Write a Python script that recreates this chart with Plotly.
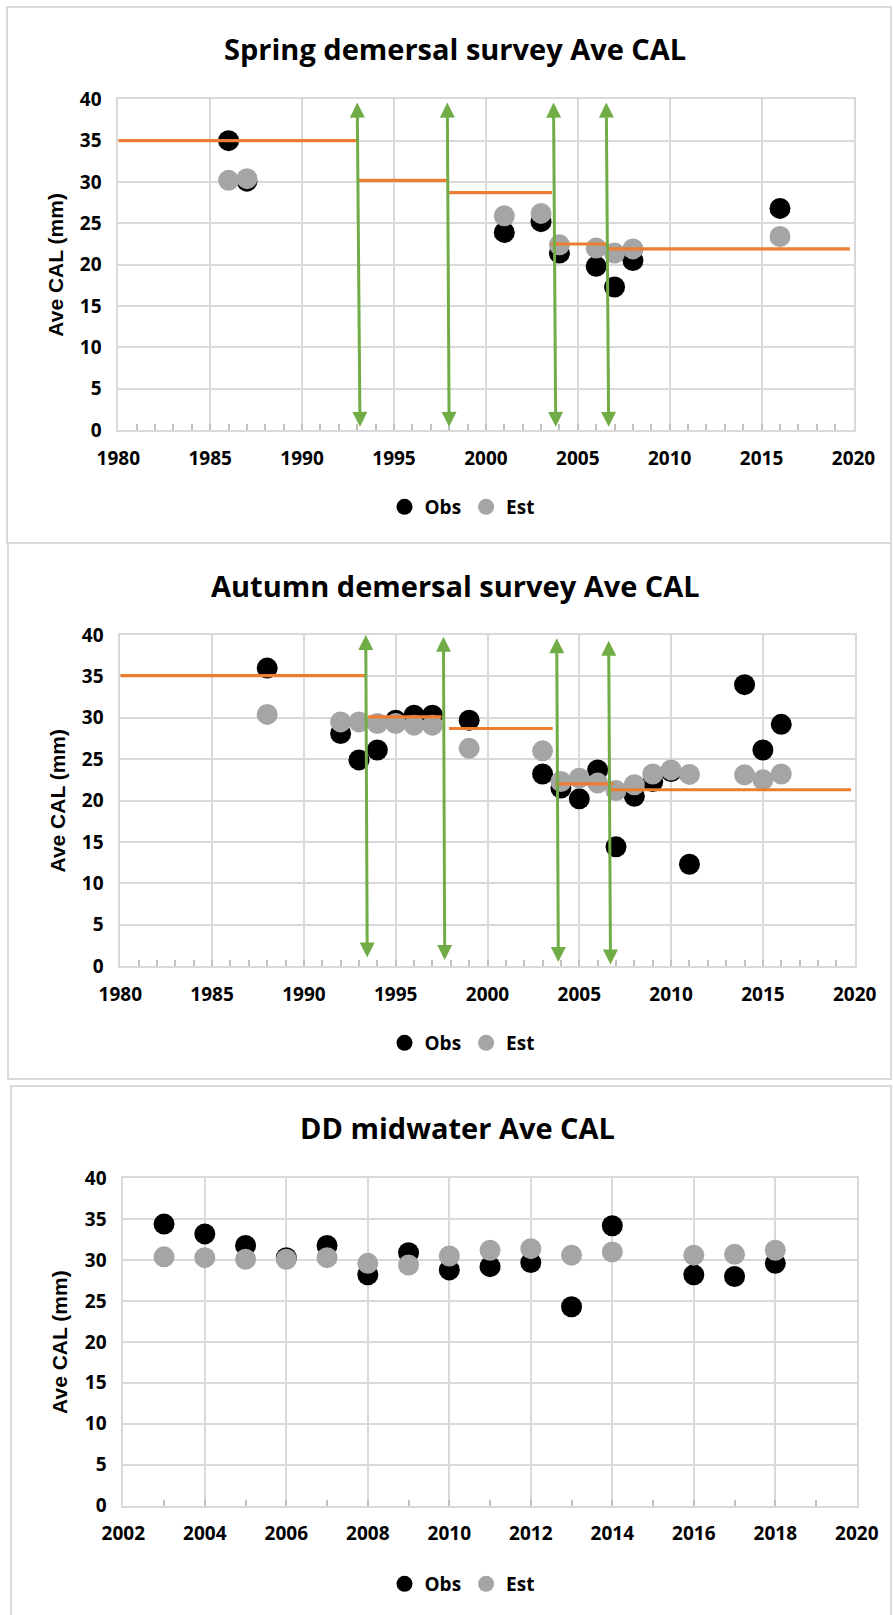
import plotly.graph_objects as go

W, H = 893, 1615

# ---------------- data ----------------
spring_years = [1986, 1987, 2001, 2003, 2004, 2006, 2007, 2008, 2016]
spring_obs = [35.0, 30.1, 23.9, 25.2, 21.4, 19.8, 17.3, 20.5, 26.8]
spring_est = [30.2, 30.4, 25.9, 26.2, 22.4, 22.0, 21.4, 21.9, 23.4]
spring_seg_start = [1980, 1993.0, 1997.95, 2003.55, 2006.65]
spring_seg_end = [1993.0, 1997.95, 2003.6, 2006.7, 2019.8]
spring_seg_level = [35.0, 30.2, 28.7, 22.5, 21.9]
spring_arrow_x_top = [1993.0, 1997.9, 2003.68, 2006.55]
spring_arrow_x_bot = [1993.15, 1998.0, 2003.8, 2006.68]
spring_arrow_y_top = [39.6, 39.6, 39.6, 39.6]
spring_arrow_y_bot = [0.2, 0.2, 0.2, 0.2]

autumn_years = [1988, 1992, 1993, 1994, 1995, 1996, 1997, 1999, 2003, 2004,
                2005, 2006, 2007, 2008, 2009, 2010, 2011, 2014, 2015, 2016]
autumn_obs = [36.0, 28.1, 24.9, 26.1, 29.7, 30.3, 30.3, 29.7, 23.2, 21.5,
              20.2, 23.7, 14.4, 20.5, 22.3, 23.5, 12.3, 34.0, 26.1, 29.2]
autumn_est = [30.4, 29.5, 29.5, 29.3, 29.3, 29.1, 29.1, 26.3, 26.0, 22.3,
              22.7, 22.1, 21.2, 21.9, 23.2, 23.7, 23.15, 23.1, 22.5, 23.2]
autumn_seg_start = [1980, 1993.5, 1997.9, 2003.7, 2006.7]
autumn_seg_end = [1993.35, 1997.5, 2003.55, 2006.85, 2019.8]
autumn_seg_level = [35.1, 30.1, 28.7, 22.0, 21.3]
autumn_arrow_x_top = [1993.37, 1997.6, 2003.77, 2006.6]
autumn_arrow_x_bot = [1993.45, 1997.67, 2003.86, 2006.7]
autumn_arrow_y_top = [40.0, 39.8, 39.6, 39.3]
autumn_arrow_y_bot = [0.85, 0.55, 0.3, 0.0]

dd_years = [2003, 2004, 2005, 2006, 2007, 2008, 2009, 2010, 2011, 2012,
            2013, 2014, 2016, 2017, 2018]
dd_obs = [34.4, 33.2, 31.8, 30.3, 31.8, 28.2, 30.9, 28.8, 29.2, 29.7,
          24.3, 34.2, 28.2, 28.0, 29.6]
dd_est = [30.4, 30.3, 30.1, 30.1, 30.3, 29.6, 29.4, 30.5, 31.2, 31.4,
          30.6, 31.0, 30.6, 30.7, 31.2]

titles = ["Spring demersal survey Ave CAL", "Autumn demersal survey Ave CAL",
          "DD midwater Ave CAL"]
y_title = "Ave CAL (mm)"
series_names = ["Obs", "Est"]

# ---------------- style / layout ----------------
OBS_C = "#000000"
EST_C = "#a5a5a5"
ORANGE = "#ed7d31"
GREEN = "#70ad47"
GRID = "#d9d9d9"
TICKFONT = dict(family="Open Sans", size=19, color="#000000", weight="bold")

def px_x(p):
    return p / W

def px_y(p):
    return 1 - p / H

panels = [
    dict(x=(118.3, 853.5), y=(99.3, 430.0), xr=[1980, 2020], dt=5,
         title_xy=(455, 49), ytitle_x=56, legend_y=507),
    dict(x=(120.3, 854.7), y=(635.0, 966.0), xr=[1980, 2020], dt=5,
         title_xy=(456, 586), ytitle_x=57, legend_y=1043),
    dict(x=(123.3, 856.8), y=(1178.3, 1505.5), xr=[2002, 2020], dt=2,
         title_xy=(458, 1127), ytitle_x=60, legend_y=1584),
]
data_sets = [
    (spring_years, spring_obs, spring_est),
    (autumn_years, autumn_obs, autumn_est),
    (dd_years, dd_obs, dd_est),
]
steps = [
    (spring_seg_start, spring_seg_end, spring_seg_level),
    (autumn_seg_start, autumn_seg_end, autumn_seg_level),
    None,
]
arrows = [
    (spring_arrow_x_top, spring_arrow_x_bot, spring_arrow_y_top, spring_arrow_y_bot),
    (autumn_arrow_x_top, autumn_arrow_x_bot, autumn_arrow_y_top, autumn_arrow_y_bot),
    None,
]

fig = go.Figure()
layout = dict(
    width=W, height=H, margin=dict(l=0, r=0, t=0, b=0, pad=0, autoexpand=False),
    paper_bgcolor="white", plot_bgcolor="white", showlegend=True,
)
annotations = []
shapes = []

# chart-area boxes
boxes = [(7, 7, 891, 543), (8, 543, 891, 1079), (11, 1086, 891, 1625)]
for (x0, y0, x1, y1) in boxes:
    shapes.append(dict(type="rect", xref="paper", yref="paper",
                       x0=px_x(x0), x1=px_x(x1), y0=px_y(y1), y1=px_y(y0),
                       line=dict(color=GRID, width=2), fillcolor="rgba(0,0,0,0)",
                       layer="below"))

for i, p in enumerate(panels):
    n = "" if i == 0 else str(i + 1)
    xa, ya = "x" + n, "y" + n
    leg = "legend" + n
    yrs, obs, est = data_sets[i]
    fig.add_trace(go.Scatter(x=yrs, y=obs, mode="markers", name=series_names[0],
                             marker=dict(color=OBS_C, size=21), xaxis=xa, yaxis=ya,
                             legend=leg))
    fig.add_trace(go.Scatter(x=yrs, y=est, mode="markers", name=series_names[1],
                             marker=dict(color=EST_C, size=21), xaxis=xa, yaxis=ya,
                             legend=leg))
    if steps[i] is not None:
        s0, s1, lv = steps[i]
        for a, b, v in zip(s0, s1, lv):
            fig.add_trace(go.Scatter(x=[a, b], y=[v, v], mode="lines",
                                     line=dict(color=ORANGE, width=3.2),
                                     showlegend=False, hoverinfo="skip",
                                     xaxis=xa, yaxis=ya))
    if arrows[i] is not None:
        xt, xb, yt, yb = arrows[i]
        for a, b, c, d in zip(xt, xb, yt, yb):
            annotations.append(dict(
                x=a, y=c, ax=b, ay=d, xref=xa, yref=ya, axref=xa, ayref=ya,
                text="", showarrow=True, arrowhead=2, startarrowhead=2,
                arrowside="end+start", arrowwidth=3, arrowsize=1,
                startarrowsize=1, arrowcolor=GREEN, standoff=0, startstandoff=0))

    layout["xaxis" + n] = dict(
        domain=[px_x(p["x"][0]), px_x(p["x"][1])], anchor=ya,
        range=p["xr"], dtick=p["dt"], tick0=p["xr"][0],
        showgrid=True, gridcolor=GRID, gridwidth=1.5,
        showline=True, mirror=True, linecolor=GRID, linewidth=2,
        ticks="inside", ticklen=6, tickcolor="#bfbfbf", tickwidth=1.5,
        minor=dict(dtick=1, tick0=p["xr"][0], ticks="inside", ticklen=6,
                   tickcolor="#bfbfbf", tickwidth=1.5, showgrid=False),
        tickfont=TICKFONT, ticklabelstandoff=10, zeroline=False, fixedrange=True,
        automargin=False)
    layout["yaxis" + n] = dict(
        domain=[px_y(p["y"][1]), px_y(p["y"][0])], anchor=xa,
        range=[0, 40], dtick=5, showgrid=True, gridcolor=GRID, gridwidth=1.5,
        showline=True, mirror=True, linecolor=GRID, linewidth=2,
        ticks="", tickfont=TICKFONT, ticklabelstandoff=11, zeroline=False,
        fixedrange=True, automargin=False)
    layout[leg] = dict(orientation="h", x=px_x(462), xanchor="center",
                       y=px_y(p["legend_y"]), yanchor="middle",
                       font=dict(family="Open Sans", size=19, color="#000000",
                                 weight="bold"),
                       bgcolor="rgba(0,0,0,0)", itemclick=False)
    tx, ty = p["title_xy"]
    annotations.append(dict(text=titles[i], xref="paper", yref="paper",
                            x=px_x(tx), y=px_y(ty), xanchor="center", yanchor="middle",
                            showarrow=False,
                            font=dict(family="Open Sans", size=29, color="#000000",
                                      weight="bold")))
    cy = (p["y"][0] + p["y"][1]) / 2
    annotations.append(dict(text=y_title, xref="paper", yref="paper",
                            x=px_x(p["ytitle_x"]), y=px_y(cy), xanchor="center",
                            yanchor="middle", textangle=-90, showarrow=False,
                            font=dict(family="Liberation Sans", size=21,
                                      color="#000000", weight="bold")))

layout["annotations"] = annotations
layout["shapes"] = shapes
fig.update_layout(**layout)
fig.write_html(
    "out.html",
    config={"displayModeBar": False},
    post_script="document.body.style.margin='0px';document.body.style.overflow='hidden';",
)
